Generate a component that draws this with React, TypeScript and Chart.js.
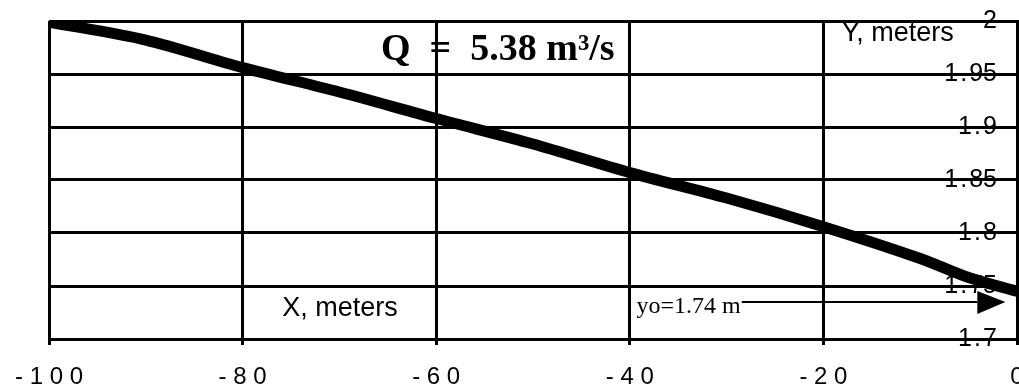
import React, { useEffect, useRef } from "react";
import { Chart, registerables } from "chart.js";

Chart.register(...registerables);

// Water surface profile: distance upstream (m) vs depth (m)
const xValues = [-100, -90, -80, -70, -60, -50, -40, -30, -20, -10, -5, 0];
const yValues = [1.999, 1.982, 1.956, 1.933, 1.908, 1.884, 1.857, 1.833, 1.806, 1.776, 1.758, 1.745];

const xTickValues = [-100, -80, -60, -40, -20, 0];
const xTickLabels = ["- 1 0 0", "- 8 0", "- 6 0", "- 4 0", "- 2 0", "0"];
const yTickValues = [1.7, 1.75, 1.8, 1.85, 1.9, 1.95, 2];
const yTickLabels = ["1\u200A.\u200A7", "1\u200A.\u200A75", "1\u200A.\u200A8", "1\u200A.\u200A85", "1\u200A.\u200A9", "1\u200A.\u200A95", "2"];

const flowLabel = "Q  =  5.38 m³/s";
const depthLabel = "yo=1.74 m";
const xAxisTitle = "X, meters";
const yAxisTitle = "Y, meters";

// annotation anchors in data units
const flowAnchor = [-65.7, 1.963];
const yTitleAnchor = [-18.1, 1.981];
const xTitleAnchor = [-75.9, 1.722];
const depthAnchor = [-39.3, 1.7246];
const arrowY = 1.735;
const arrowTipX = -1.2;
const arrowBaseX = -4.1;

const SANS = '"Liberation Sans", Arial, Helvetica, sans-serif';
const SERIF = '"Liberation Serif", "Times New Roman", serif';

const annotatePlugin = {
  id: "annotate",
  afterDraw(chart: any) {
    const { ctx, scales } = chart;
    const x = scales.x;
    const y = scales.y;
    const px = (v: number) => x.getPixelForValue(v);
    const py = (v: number) => y.getPixelForValue(v);
    ctx.save();
    ctx.fillStyle = "#000";
    ctx.strokeStyle = "#000";
    ctx.textAlign = "left";
    ctx.textBaseline = "alphabetic";

    ctx.font = `bold 38px ${SERIF}`;
    ctx.fillText(flowLabel, px(flowAnchor[0]), py(flowAnchor[1]));

    ctx.font = `27px ${SANS}`;
    ctx.fillText(yAxisTitle, px(yTitleAnchor[0]), py(yTitleAnchor[1]));
    ctx.fillText(xAxisTitle, px(xTitleAnchor[0]), py(xTitleAnchor[1]));

    ctx.font = `24px ${SERIF}`;
    const dx = px(depthAnchor[0]);
    ctx.fillText(depthLabel, dx, py(depthAnchor[1]));
    const textEnd = dx + ctx.measureText(depthLabel).width + 1;

    const ay = py(arrowY);
    const tip = px(arrowTipX);
    const base = px(arrowBaseX);
    ctx.lineWidth = 2;
    ctx.beginPath();
    ctx.moveTo(textEnd, ay);
    ctx.lineTo(base, ay);
    ctx.stroke();
    ctx.beginPath();
    ctx.moveTo(base, ay - 11);
    ctx.lineTo(tip, ay);
    ctx.lineTo(base, ay + 12);
    ctx.closePath();
    ctx.fill();
    ctx.restore();
  },
};

export default function App() {
  const canvasRef = useRef<HTMLCanvasElement | null>(null);

  useEffect(() => {
    const canvas = canvasRef.current;
    if (!canvas) return;
    const chart = new Chart(canvas, {
      type: "line",
      data: {
        datasets: [
          {
            data: xValues.map((v, i) => ({ x: v, y: yValues[i] })),
            borderColor: "#000",
            backgroundColor: "#000",
            borderWidth: 11,
            borderCapStyle: "round",
            borderJoinStyle: "round",
            pointRadius: 0,
            tension: 0.3,
            fill: false,
          },
        ],
      },
      options: {
        animation: false,
        responsive: false,
        devicePixelRatio: 1,
        layout: { padding: { left: 49, right: 0, top: 21, bottom: 0 } },
        plugins: {
          legend: { display: false },
          tooltip: { enabled: false },
          title: { display: false },
        },
        scales: {
          x: {
            type: "linear",
            position: "bottom",
            min: -100,
            max: 0,
            afterBuildTicks: (s: any) => {
              s.ticks = xTickValues.map((v) => ({ value: v }));
            },
            afterFit: (s: any) => {
              s.height = 50;
              s.paddingLeft = 0;
              s.paddingRight = 0;
            },
            grid: {
              color: "#000",
              lineWidth: 3,
              drawTicks: true,
              tickLength: 6,
              tickColor: "#000",
            },
            border: { display: true, color: "#000", width: 3 },
            ticks: {
              color: "#000",
              font: { family: SANS, size: 24 },
              padding: 18,
              maxRotation: 0,
              autoSkip: false,
              callback: (_v: any, i: number) => xTickLabels[i],
            },
          },
          y: {
            type: "linear",
            position: "right",
            min: 1.7,
            max: 2,
            afterBuildTicks: (s: any) => {
              s.ticks = yTickValues.map((v) => ({ value: v }));
            },
            afterFit: (s: any) => {
              s.width = 2;
              s.paddingTop = 0;
              s.paddingBottom = 0;
            },
            grid: { color: "#000", lineWidth: 3, drawTicks: false },
            border: { display: true, color: "#000", width: 3 },
            ticks: {
              mirror: true,
              color: "#000",
              font: { family: SANS, size: 25 },
              padding: -20,
              autoSkip: false,
              callback: (_v: any, i: number) => yTickLabels[i],
            },
          },
        },
      },
      plugins: [annotatePlugin],
    } as any);
    return () => chart.destroy();
  }, []);

  return (
    <div style={{ position: "absolute", left: 0, top: 0, width: 1019, height: 389, background: "#fff" }}>
      <canvas ref={canvasRef} width={1019} height={389} style={{ display: "block" }} />
    </div>
  );
}
